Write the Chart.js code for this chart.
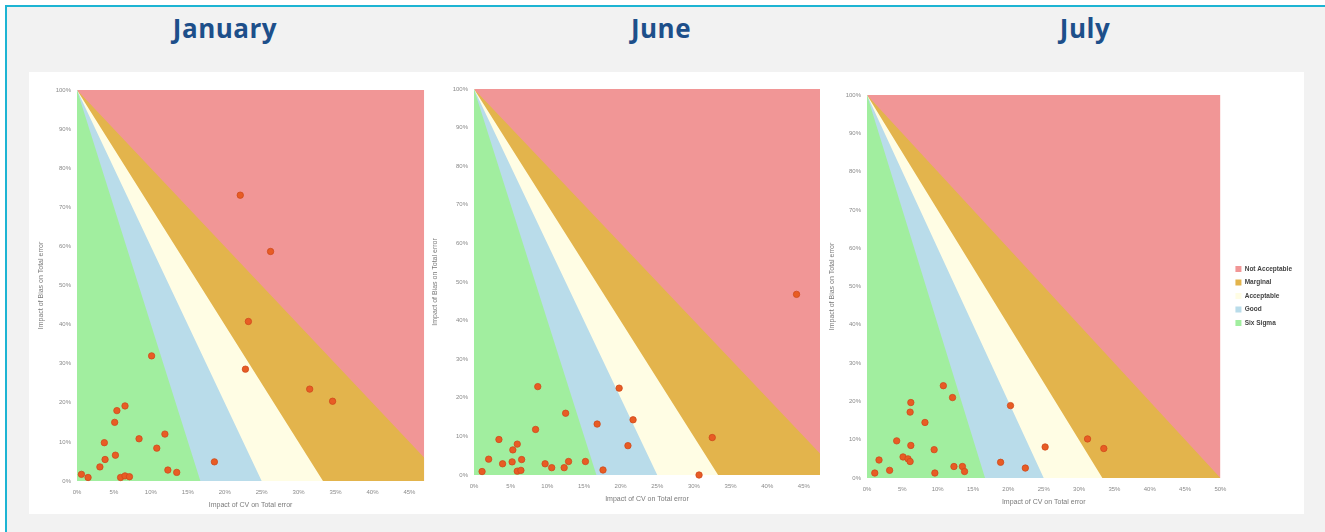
<!DOCTYPE html>
<html><head><meta charset="utf-8">
<script src="https://cdn.jsdelivr.net/npm/chart.js@4.4.1/dist/chart.umd.min.js"></script>
<style>
html,body{margin:0;padding:0;background:#fff;width:1325px;height:532px;overflow:hidden}
#frame{position:absolute;left:5px;top:5px;width:1330px;height:540px;border-left:2px solid #1db4d3;border-top:2px solid #1db4d3;background:#f2f2f2}
.title{position:absolute;top:10px;font:700 26px "Open Sans",sans-serif;letter-spacing:0.5px;color:#1d4f8a;transform:translateX(-50%);white-space:nowrap}
#panel{position:absolute;left:29px;top:72px;width:1275px;height:442px;background:#fff}
.box{position:absolute;top:73px;height:441px}
</style></head><body>
<div id="frame"></div>
<div id="panel"></div>
<div class="title" style="left:225px">January</div>
<div class="title" style="left:661px">June</div>
<div class="title" style="left:1085px">July</div>
<div class="box" style="left:33px;width:396px"><canvas id="c1"></canvas></div>
<div class="box" style="left:427px;width:399px"><canvas id="c2"></canvas></div>
<div class="box" style="left:824px;width:480px"><canvas id="c3"></canvas></div>
<script>
// Zone names (legend) and their x-intercepts (% CV impact at 0% bias)
const zoneLabels = ['Not Acceptable', 'Marginal', 'Acceptable', 'Good', 'Six Sigma'];
const zoneIntercepts = [null, 50, 33.3, 25, 16.7];
const zoneColors = ['#f19696', '#e3b44c', '#fffde4', '#b9dcea', '#a1ee9f'];
const periods = ['January', 'June', 'July'];

// Tick labels
const xTicksJanJun = [0, 5, 10, 15, 20, 25, 30, 35, 40, 45];
const xTicksJul = [0, 5, 10, 15, 20, 25, 30, 35, 40, 45, 50];
const yTicks = [0, 10, 20, 30, 40, 50, 60, 70, 80, 90, 100];

// January
const janCV   = [22.1, 26.2, 23.2, 22.8, 31.5, 34.6, 10.1, 6.5, 5.4, 5.1, 3.7, 8.4, 11.9, 10.8, 5.2, 3.8, 3.1, 0.6, 1.5, 5.9, 6.5, 7.1, 12.3, 13.5, 18.6];
const janBias = [73.1, 58.7, 40.8, 28.6, 23.5, 20.4, 32.0, 19.2, 18.0, 15.0, 9.8, 10.8, 12.0, 8.4, 6.6, 5.5, 3.6, 1.7, 0.9, 0.9, 1.3, 1.1, 2.8, 2.2, 4.9];
// June
const junCV   = [44.0, 8.7, 19.8, 12.5, 21.7, 16.8, 8.4, 32.5, 3.4, 5.9, 21.0, 5.3, 2.0, 6.5, 15.2, 12.9, 3.9, 5.2, 9.7, 10.6, 12.3, 1.1, 5.9, 6.4, 17.6, 30.7];
const junBias = [46.8, 22.9, 22.5, 16.0, 14.3, 13.2, 11.8, 9.7, 9.2, 8.0, 7.6, 6.5, 4.1, 4.0, 3.5, 3.5, 2.9, 3.4, 2.9, 1.9, 1.9, 0.9, 1.0, 1.2, 1.3, 0.0];
// July
const julCV   = [10.8, 12.1, 6.2, 6.1, 20.3, 8.2, 4.2, 6.2, 9.5, 25.2, 31.2, 33.5, 5.1, 5.8, 6.1, 1.7, 18.9, 22.4, 12.3, 13.5, 13.8, 3.2, 1.1, 9.6];
const julBias = [24.1, 21.0, 19.7, 17.2, 18.9, 14.5, 9.7, 8.5, 7.4, 8.1, 10.2, 7.7, 5.5, 5.0, 4.3, 4.7, 4.1, 2.6, 3.0, 3.0, 1.7, 2.0, 1.3, 1.3];

const xMaxes = [47, 47.2, 50];
const xTitle = 'Impact of CV on Total error';
const yTitle = 'Impact of Bias on Total error';

const tickFont = {family: 'Liberation Sans, Arial, sans-serif', size: 6};
const titleFont = {family: 'Liberation Sans, Arial, sans-serif', size: 7};

function makeChart(id, cv, bias, xMax, xTicks, lay) {
  const datasets = zoneLabels.map((lab, i) => {
    const pts = i === 0
      ? [{x: 0, y: 100}, {x: 100, y: 100}]
      : [{x: 0, y: 100}, {x: zoneIntercepts[i], y: 0}, {x: 100, y: 0}];
    return {
      label: lab, data: pts, showLine: true, fill: 'start',
      backgroundColor: zoneColors[i], borderColor: zoneColors[i], borderWidth: 0,
      pointRadius: 0, pointHoverRadius: 0, order: 10 - i
    };
  });
  datasets.push({
    label: 'points', data: cv.map((v, i) => ({x: v, y: bias[i]})),
    showLine: false, pointRadius: 3.2, pointBackgroundColor: '#e85c24',
    pointBorderColor: '#cf4a1c', pointBorderWidth: 0.8, order: 0, clip: false
  });
  const scales = {
    x: {
      type: 'linear', min: 0, max: xMax,
      grid: {display: false, drawTicks: false}, border: {display: false},
      ticks: {padding: 8, color: '#8a8a8a', font: tickFont, maxRotation: 0, autoSkip: false,
              callback: v => v + '%'},
      afterBuildTicks: s => { s.ticks = xTicks.map(v => ({value: v})); },
      afterFit: s => { s.height = lay.xh; },
      title: {display: true, text: xTitle, color: '#7a7a7a', font: titleFont}
    },
    y: {
      type: 'linear', min: 0, max: 100,
      grid: {display: false, drawTicks: false}, border: {display: false},
      ticks: {padding: 6, color: '#8a8a8a', font: tickFont, autoSkip: false, callback: v => v + '%'},
      afterBuildTicks: s => { s.ticks = yTicks.map(v => ({value: v})); },
      afterFit: s => { s.width = lay.yw; },
      title: {display: true, text: yTitle, color: '#7a7a7a', font: titleFont}
    }
  };
  if (lay.legend) {
    scales.gap = {
      type: 'linear', position: 'right', display: true, min: 0, max: 1,
      grid: {display: false}, border: {display: false}, ticks: {display: false},
      afterFit: s => { s.width = 8; }
    };
  }
  return new Chart(document.getElementById(id), {
    type: 'scatter',
    data: {datasets},
    options: {
      responsive: true, maintainAspectRatio: false, animation: false,
      layout: {padding: lay.pad},
      plugins: {
        tooltip: {enabled: false},
        legend: {
          display: !!lay.legend, position: 'right', fullSize: false,
          title: {display: true, text: ' ', padding: 0, font: {size: 16}},
          labels: {
            boxWidth: 6, boxHeight: 6, padding: 7, color: '#444',
            font: {family: 'Liberation Sans, Arial, sans-serif', size: 6.5, weight: 'bold'},
            filter: it => it.datasetIndex < zoneLabels.length,
            sort: (a, b) => a.datasetIndex - b.datasetIndex
          }
        }
      },
      scales
    }
  });
}

makeChart('c1', janCV, janBias, xMaxes[0], xTicksJanJun, {pad: {left: 0, right: 4, top: 17, bottom: 1}, xh: 32, yw: 44});
makeChart('c2', junCV, junBias, xMaxes[1], xTicksJanJun, {pad: {left: 0, right: 6, top: 16, bottom: 7}, xh: 32, yw: 47});
makeChart('c3', julCV, julBias, xMaxes[2], xTicksJul, {pad: {left: 0, right: 2, top: 22, bottom: 4}, xh: 32, yw: 43, legend: true});
</script>
</body></html>
